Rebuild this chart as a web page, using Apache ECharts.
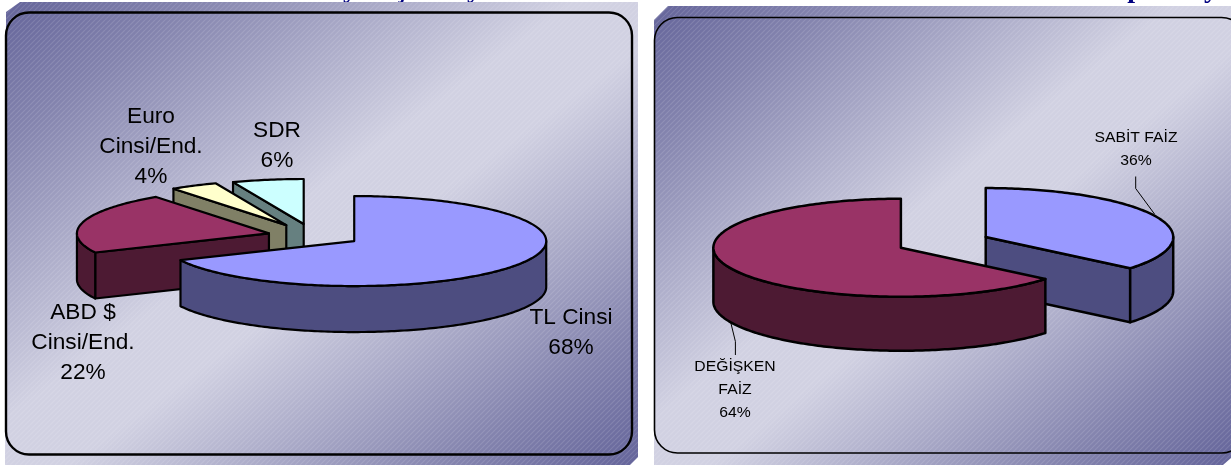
<!DOCTYPE html>
<html>
<head>
<meta charset="utf-8">
<style>
  html, body { margin: 0; padding: 0; background: #fff; }
  #chart { width: 1231px; height: 465px; }
</style>
<script src="https://cdn.jsdelivr.net/npm/echarts@6/dist/echarts.min.js"></script>
</head>
<body>
<div id="chart"></div>
<script>
// Debt composition by currency
const currencyNames = ['TL Cinsi', 'ABD $\nCinsi/End.', 'Euro\nCinsi/End.', 'SDR'];
const currencyValues = [68, 22, 4, 6];
const currencyExplode = [0.245, 0.245, 0.305, 0.3];
const currencyTops = ['#9999ff', '#993366', '#ffffcc', '#ccffff'];
const currencySides = ['#4d4d80', '#4d1a33', '#808066', '#668080'];
const currencyLabelSpots = [[571, 333], [83, 343], [151, 147], [277, 146]];

// Debt composition by interest type
const rateNames = ['SABİT FAİZ', 'DEĞİŞKEN\nFAİZ'];
const rateValues = [36, 64];
const rateExplode = [0.25, 0.25];
const rateTops = ['#9999ff', '#993366'];
const rateSides = ['#4d4d80', '#4d1a33'];
const rateLabelSpots = [[1136, 149], [735, 390]];
const rateLeaders = [
  [[1135.7, 176.5], [1135.7, 188.5], [1154.5, 214]],
  [[735.4, 355], [735.4, 341.5], [730.5, 321.5]]
];

const RAD = Math.PI / 180;

// Turns values into clockwise wedges from twelve o'clock, ordered back to front.
function buildRows(values, explode) {
  const total = values.reduce((a, b) => a + b, 0);
  let acc = 0;
  const rows = values.map((v, i) => {
    const start = acc / total * 360;
    acc += v;
    return [v, start, acc / total * 360, explode[i], i];
  });
  const depthKey = r => Math.cos((r[1] + r[2]) / 2 * RAD);
  return rows.sort((a, b) => depthKey(b) - depthKey(a));
}

function arcPoints(c, rx, ry, from, to, dy) {
  const pts = [];
  const steps = Math.max(2, Math.ceil(to - from));
  for (let k = 0; k <= steps; k++) {
    const t = (from + (to - from) * k / steps) * RAD;
    pts.push([c[0] + rx * Math.sin(t), c[1] - ry * Math.cos(t) + dy]);
  }
  return pts;
}

// Renders one extruded elliptical wedge with its label.
function wedgeRenderer(cfg) {
  return function (params, api) {
    const start = api.value(1), end = api.value(2), ex = api.value(3), idx = api.value(4);
    const mid = (start + end) / 2 * RAD;
    const c = [
      cfg.cx + ex * cfg.rx * Math.sin(mid),
      cfg.cy - ex * cfg.explodeRy * Math.cos(mid)
    ];
    const edge = { stroke: '#000', lineWidth: cfg.lineWidth, lineJoin: 'round' };
    const side = cfg.sides[idx];
    const children = [];
    const cutFace = deg => {
      const p = arcPoints(c, cfg.rx, cfg.ry, deg, deg, 0)[0];
      children.push({
        type: 'polygon',
        shape: { points: [c, p, [p[0], p[1] + cfg.depth], [c[0], c[1] + cfg.depth]] },
        style: Object.assign({ fill: side }, edge)
      });
    };
    if (Math.sin(start * RAD) < -1e-6) cutFace(start);
    if (Math.sin(end * RAD) > 1e-6) cutFace(end);
    const a = Math.max(start, 90), b = Math.min(end, 270);
    if (a < b) {
      const upper = arcPoints(c, cfg.rx, cfg.ry, a, b, 0);
      const lower = arcPoints(c, cfg.rx, cfg.ry, a, b, cfg.depth).reverse();
      children.push({
        type: 'polygon',
        shape: { points: upper.concat(lower) },
        style: Object.assign({ fill: side }, edge)
      });
    }
    children.push({
      type: 'polygon',
      shape: { points: [c].concat(arcPoints(c, cfg.rx, cfg.ry, start, end, 0)) },
      style: Object.assign({ fill: cfg.tops[idx] }, edge)
    });
    if (cfg.leaders) {
      children.push({
        type: 'polyline',
        shape: { points: cfg.leaders[idx] },
        style: { stroke: '#000', lineWidth: 1, fill: null }
      });
    }
    const spot = cfg.labelSpots[idx];
    children.push({
      type: 'text',
      x: spot[0],
      y: spot[1],
      scaleX: cfg.labelStretch,
      style: {
        text: cfg.names[idx] + '\n' + api.value(0) + '%',
        font: cfg.labelFont,
        lineHeight: cfg.labelLine,
        fill: '#000',
        align: 'center',
        verticalAlign: 'middle'
      }
    });
    return { type: 'group', children };
  };
}

function diagonalGradient(x, y, w, h) {
  const t = w * h / (w * w + h * h);
  const mx = x + w / 2, my = y + h / 2;
  return {
    type: 'linear', global: true,
    x: mx - t * h, y: my - t * w, x2: mx + t * h, y2: my + t * w,
    colorStops: [
      { offset: 0, color: '#64649a' },
      { offset: 0.15, color: '#8484ae' },
      { offset: 0.45, color: '#d1d1e2' },
      { offset: 0.55, color: '#d1d1e2' },
      { offset: 0.85, color: '#8484ae' },
      { offset: 1, color: '#64649a' }
    ]
  };
}

// Fine diagonal hatch laid over the panel gradient.
function hatchTile() {
  const size = 5;
  const tile = document.createElement('canvas');
  tile.width = tile.height = size;
  const g = tile.getContext('2d');
  g.strokeStyle = 'rgba(255,255,255,0.13)';
  g.lineWidth = 1.1;
  for (const off of [-size, 0, size]) {
    g.beginPath();
    g.moveTo(off, size);
    g.lineTo(off + size, 0);
    g.stroke();
  }
  return { image: tile, repeat: 'repeat' };
}

function panel(points, box, frame, frameWidth) {
  return [
    { type: 'polygon', z: 1, shape: { points }, style: { fill: diagonalGradient(box[0], box[1], box[2], box[3]) } },
    { type: 'polygon', z: 1, shape: { points }, style: { fill: hatchTile() } },
    {
      type: 'rect', z: 1,
      shape: { x: frame[0], y: frame[1], width: frame[2], height: frame[3], r: 23 },
      style: { fill: null, stroke: '#000', lineWidth: frameWidth }
    }
  ];
}

function clippedLetter(ch, x) {
  return {
    type: 'text', z: 0, x, y: 4,
    style: { text: ch, font: 'bold 28px "Liberation Serif"', fill: '#000080', align: 'center', verticalAlign: 'bottom' }
  };
}

const chart = echarts.init(document.getElementById('chart'), null, { renderer: 'canvas' });
chart.setOption({
  animation: false,
  backgroundColor: '#ffffff',
  graphic: {
    elements: [
      clippedLetter('y', 350), clippedLetter('ş', 401), clippedLetter('y', 474),
      clippedLetter('p', 1135), clippedLetter('y', 1211)
    ].concat(
      panel([[6, 12], [20, 2], [638, 2], [638, 457], [630, 465], [5, 465]], [5, 2, 633, 463], [6, 12.5, 626, 442], 2.4),
      panel([[654, 20], [668, 6], [1231, 6], [1231, 458], [1223, 465], [654, 465]], [654, 6, 577, 459], [654.5, 17.5, 590, 435.5], 1.6)
    )
  },
  series: [
    {
      type: 'custom',
      coordinateSystem: 'none',
      z: 2,
      data: buildRows(currencyValues, currencyExplode),
      renderItem: wedgeRenderer({
        cx: 314.5, cy: 235.8, rx: 192, ry: 45, explodeRy: 40, depth: 46, lineWidth: 2.2,
        names: currencyNames, tops: currencyTops, sides: currencySides,
        labelSpots: currencyLabelSpots,
        labelFont: '22px "Liberation Sans"', labelLine: 30, labelStretch: 1.03
      })
    },
    {
      type: 'custom',
      coordinateSystem: 'none',
      z: 2,
      data: buildRows(rateValues, rateExplode),
      renderItem: wedgeRenderer({
        cx: 943.3, cy: 242.4, rx: 187.5, ry: 49, explodeRy: 50, depth: 54, lineWidth: 2.5,
        names: rateNames, tops: rateTops, sides: rateSides,
        labelSpots: rateLabelSpots, leaders: rateLeaders,
        labelFont: '15px "Liberation Sans"', labelLine: 23, labelStretch: 1.05
      })
    }
  ]
});
</script>
</body>
</html>
